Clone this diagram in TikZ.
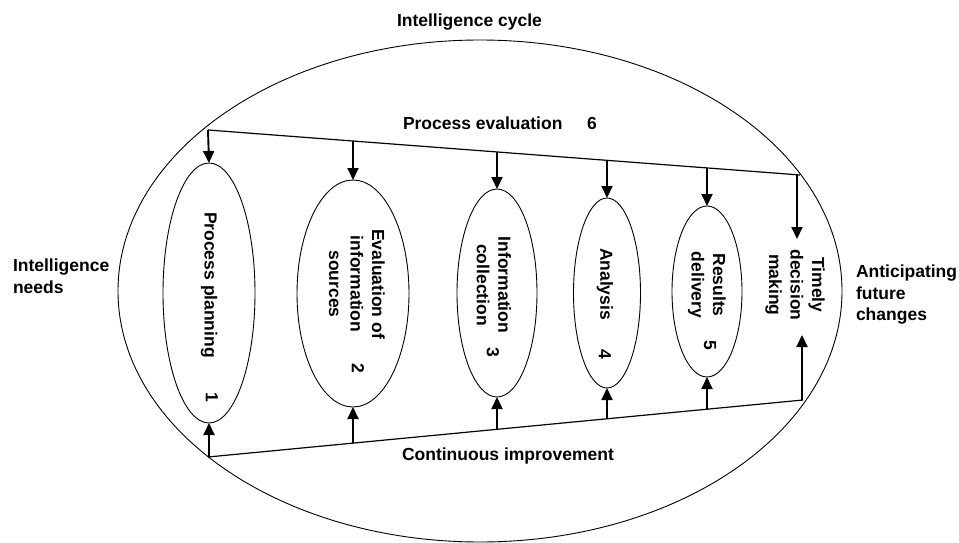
\documentclass[tikz,border=0pt]{standalone}
\usepackage{fontspec}
\setmainfont{Liberation Sans}
\usetikzlibrary{shapes.geometric,arrows.meta}
\begin{document}
\begin{tikzpicture}[x=1pt,y=-1pt,
  txt/.style={font=\bfseries\fontsize{17.5}{21.5}\selectfont, inner sep=0pt, outer sep=0pt},
  rottxt/.style={txt, rotate=-90, align=center},
  oval/.style={draw, ellipse, line width=0.9pt, inner sep=0pt, outer sep=0pt},
  bar/.style={line width=1.2pt},
  arr/.style={line width=1.9pt, -{Triangle[length=12pt,width=11pt]}}]
\useasboundingbox (0,0) rectangle (959,543);
% outer ellipse
\node[oval, minimum width=724pt, minimum height=502pt] (cycle) at (480,291) {};
% inner ellipses
\node[oval, minimum width=92pt, minimum height=260pt] (e1) at (209,293) {};
\node[oval, minimum width=112pt, minimum height=227pt] (e2) at (353,293.5) {};
\node[oval, minimum width=80pt, minimum height=208pt] (e3) at (497,293) {};
\node[oval, minimum width=67pt, minimum height=190pt] (e4) at (607,293) {};
\node[oval, minimum width=70pt, minimum height=171pt] (e5) at (707,291.5) {};
% coordinates on top and bottom lines
\coordinate (tl) at (208,130);
\coordinate (tr) at (800,175);
\coordinate (t2) at (353,141);
\coordinate (t3) at (497,152);
\coordinate (t4) at (607,160.3);
\coordinate (t5) at (707,167.9);
\coordinate (t6) at (797,174.8);
\coordinate (d6) at (797,239);
\coordinate (bl) at (208,457);
\coordinate (br) at (803,400);
\coordinate (b1) at (209,457);
\coordinate (b2) at (353,443.1);
\coordinate (b3) at (497,429.3);
\coordinate (b4) at (607,418.8);
\coordinate (b5) at (707,409.2);
\coordinate (b6) at (802,400.1);
\coordinate (u6) at (802,335);
\draw[bar] (tl) -- (tr);
\draw[bar] (bl) -- (br);
% arrows down
\draw[arr] (tl) -- (e1.north);
\draw[arr] (t2) -- (e2.north);
\draw[arr] (t3) -- (e3.north);
\draw[arr] (t4) -- (e4.north);
\draw[arr] (t5) -- (e5.north);
\draw[arr] (t6) -- (d6);
% arrows up
\draw[arr] (b1) -- (e1.south);
\draw[arr] (b2) -- (e2.south);
\draw[arr] (b3) -- (e3.south);
\draw[arr] (b4) -- (e4.south);
\draw[arr] (b5) -- (e5.south);
\draw[arr] (b6) -- (u6);
% texts
\node[txt, anchor=base west] (title) at (397,27) {Intelligence cycle};
\node[txt, anchor=base west] (pe) at (403,129) {Process evaluation};
\node[txt, anchor=base west] (n6) at (587,129) {6};
\node[txt, anchor=base west] (ci) at (402,460) {Continuous improvement};
\node[txt, anchor=north west, align=left] (needs) at (13,259) {Intelligence\\needs};
\node[txt, anchor=north west, align=left] (antic) at (856,265) {Anticipating\\future\\changes};
\node[rottxt] (l1) at (209,285) {Process planning};
\node[rottxt] (l2) at (357,284) {Evaluation of\\information\\sources};
\node[rottxt] (l3) at (494,285) {Information\\collection};
\node[rottxt] (l4) at (605,284) {Analysis};
\node[rottxt] (l5) at (707,285) {Results\\delivery};
\node[rottxt] (l6) at (795,285) {Timely\\decision\\making};
\node[rottxt] (n1) at (212,397) {1};
\node[rottxt] (n2) at (358,368) {2};
\node[rottxt] (n3) at (493,352) {3};
\node[rottxt] (n4) at (605,354) {4};
\node[rottxt] (n5) at (710,345) {5};
\end{tikzpicture}
\end{document}
